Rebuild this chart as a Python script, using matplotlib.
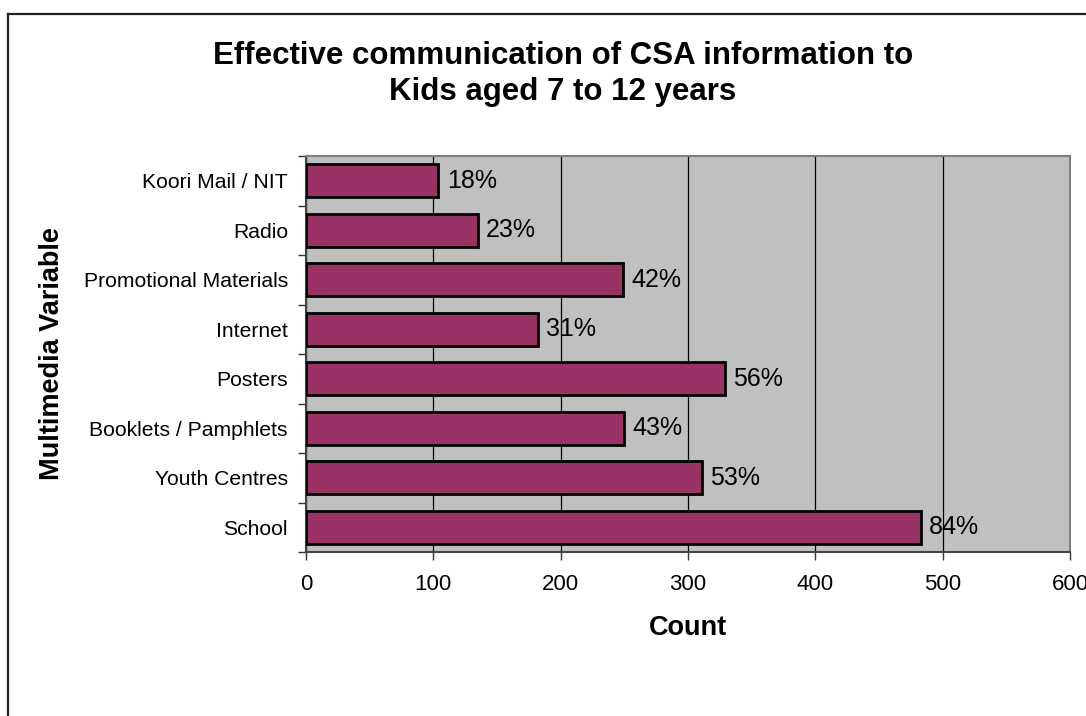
import matplotlib
matplotlib.use("Agg")
import matplotlib.pyplot as plt
from matplotlib.lines import Line2D
import numpy as np

plt.rcParams['font.family'] = ['Liberation Sans', 'DejaVu Sans']

categories = ["School", "Youth Centres", "Booklets / Pamphlets", "Posters",
              "Internet", "Promotional Materials", "Radio", "Koori Mail / NIT"]
counts = [483, 311, 250, 329, 182, 249, 135, 104]
pct_labels = ["84%", "53%", "43%", "56%", "31%", "42%", "23%", "18%"]
x_ticks = [0, 100, 200, 300, 400, 500, 600]

fig = plt.figure(figsize=(10.86, 7.16), dpi=100)
fig.patch.set_facecolor("white")

# outer frame (left and top edges visible)
fig.add_artist(Line2D([8/1086, 8/1086], [0, 1 - 14/716], transform=fig.transFigure,
                      color="#222222", lw=1.6))
fig.add_artist(Line2D([8/1086, 1], [1 - 14/716, 1 - 14/716], transform=fig.transFigure,
                      color="#222222", lw=1.6))

ax = fig.add_axes([306/1086, 1 - 552/716, 764/1086, 396/716])
ax.set_facecolor("#C0C0C0")

y = np.arange(len(categories))
ax.barh(y, counts, height=0.67, color="#993366", edgecolor="black", linewidth=2, zorder=3)

for yi, c, lab in zip(y, counts, pct_labels):
    ax.text(c + 6.5, yi, lab, va="center", ha="left", fontsize=18, zorder=4)

ax.set_xlim(0, 600)
ax.set_ylim(-0.5, len(categories) - 0.5)
ax.set_xticks(x_ticks)
ax.set_xticklabels([str(v) for v in x_ticks], fontsize=16)
ax.xaxis.grid(True, color="black", lw=0.9, zorder=1)
ax.set_axisbelow(True)

ax.set_yticks(y)
ax.set_yticklabels(categories, fontsize=15.2)
ax.tick_params(axis="y", which="major", length=0, pad=13)
ax.set_yticks(np.arange(-0.5, len(categories), 1), minor=True)
ax.tick_params(axis="y", which="minor", length=6, width=1, color="#333333", direction="out")
ax.tick_params(axis="x", which="major", length=6, width=1, color="#333333", direction="out", pad=10)

for s in ["top", "right"]:
    ax.spines[s].set_color("#808080")
    ax.spines[s].set_linewidth(1.5)
for s in ["left", "bottom"]:
    ax.spines[s].set_color("#444444")
    ax.spines[s].set_linewidth(1.5)

ax.set_xlabel("Count", fontsize=19.5, fontweight="bold", labelpad=14)
ax.set_ylabel("Multimedia Variable", fontsize=19.5, fontweight="bold")
ax.yaxis.set_label_coords(-241/764, 0.5)

fig.text(563/1086, 1 - 74/716, "Effective communication of CSA information to\nKids aged 7 to 12 years",
         ha="center", va="center", fontsize=22.5, fontweight="bold", linespacing=1.3)

fig.savefig("out.png", dpi=100)
